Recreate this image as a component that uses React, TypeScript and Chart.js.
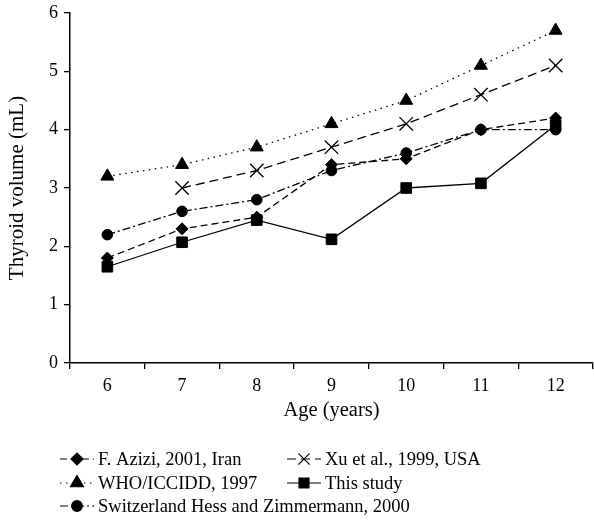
import React, { useEffect, useRef } from "react";
import { Chart, registerables } from "chart.js";
import { drawPoint } from "chart.js/helpers";

Chart.register(...registerables);

const ages = ["6", "7", "8", "9", "10", "11", "12"];
const azizi = [1.8, 2.3, 2.5, 3.4, 3.5, 4.0, 4.2];
const xu = [null, 3.0, 3.3, 3.7, 4.1, 4.6, 5.1];
const who = [3.2, 3.4, 3.7, 4.1, 4.5, 5.1, 5.7];
const thisStudy = [1.65, 2.07, 2.45, 2.12, 3.0, 3.08, 4.08];
const swiss = [2.2, 2.6, 2.8, 3.3, 3.6, 4.0, 4.0];
const yTicks = [0, 1, 2, 3, 4, 5, 6];

const FONT = "'Liberation Serif', 'DejaVu Serif', serif";
const PLOT_RIGHT = 593;

const stretchPlugin = {
  id: "stretchRight",
  afterLayout(chart: any) {
    const xs = chart.scales.x;
    chart.chartArea.right = PLOT_RIGHT;
    chart.chartArea.width = PLOT_RIGHT - chart.chartArea.left;
    xs.right = PLOT_RIGHT;
    xs.width = xs.right - xs.left;
    xs.configure();
  },
};

const legendPlugin = {
  id: "customLegend",
  afterDraw(chart: any) {
    const ctx = chart.ctx;
    const slots = [
      { x: 60, y: 459 },
      { x: 287, y: 459 },
      { x: 60, y: 483 },
      { x: 287, y: 483 },
      { x: 60, y: 506 },
    ];
    chart.data.datasets.forEach((ds: any) => {
      const s = slots[ds.legendSlot];
      ctx.save();
      ctx.strokeStyle = "#000";
      ctx.lineWidth = 1.2;
      ctx.setLineDash(ds.borderDash || []);
      ctx.beginPath();
      ctx.moveTo(s.x, s.y);
      ctx.lineTo(s.x + 34, s.y);
      ctx.stroke();
      ctx.setLineDash([]);
      ctx.fillStyle = "#000";
      drawPoint(
        ctx,
        {
          pointStyle: ds.pointStyle,
          radius: ds.legendRadius,
          rotation: 0,
          borderWidth: ds.pointBorderWidth,
        },
        s.x + 17,
        s.y
      );
      ctx.fillStyle = "#000";
      ctx.font = "18.5px " + FONT;
      ctx.textBaseline = "middle";
      ctx.textAlign = "left";
      ctx.fillText(ds.label, s.x + 38, s.y + 1);
      ctx.restore();
    });
  },
};

export default function App() {
  const ref = useRef<HTMLCanvasElement>(null);
  useEffect(() => {
    const common = {
      borderColor: "#000",
      backgroundColor: "#000",
      pointBackgroundColor: "#000",
      pointBorderColor: "#000",
      borderWidth: 1.3,
      tension: 0,
      spanGaps: false,
    };
    const chart = new Chart(ref.current!, {
      type: "line",
      data: {
        labels: ages,
        datasets: [
          { ...common, label: "F. Azizi, 2001, Iran", data: azizi, borderDash: [7, 4], pointStyle: "rectRot", pointRadius: 6, legendRadius: 6, pointBorderWidth: 1, legendSlot: 0 } as any,
          { ...common, label: "Xu et al., 1999, USA", data: xu, borderDash: [9, 5], pointStyle: "crossRot", pointRadius: 9.5, legendRadius: 8, pointBorderWidth: 1.3, legendSlot: 1 } as any,
          { ...common, label: "WHO/ICCIDD, 1997", data: who, borderDash: [1.5, 4.5], pointStyle: "triangle", pointRadius: 7.5, legendRadius: 7.5, pointBorderWidth: 1, legendSlot: 2 } as any,
          { ...common, label: "This study", data: thisStudy, borderDash: [], pointStyle: "rect", pointRadius: 7.5, legendRadius: 7, pointBorderWidth: 1, legendSlot: 3 } as any,
          { ...common, label: "Switzerland Hess and Zimmermann, 2000", data: swiss, borderDash: [8, 3, 2, 3], pointStyle: "circle", pointRadius: 5.3, legendRadius: 5.3, pointBorderWidth: 1, legendSlot: 4 } as any,
        ],
      },
      options: {
        animation: false,
        responsive: false,
        maintainAspectRatio: false,
        layout: { padding: { left: 0, right: 1, top: 13, bottom: 102 } },
        plugins: { legend: { display: false }, tooltip: { enabled: false } },
        scales: {
          x: {
            offset: true,
            afterFit: (scale: any) => {
              scale.height = 60;
              scale.paddingLeft = 0;
              scale.paddingRight = 0;
            },
            grid: {
              offset: true,
              drawOnChartArea: false,
              drawTicks: true,
              tickLength: 6,
              color: "#000",
              lineWidth: 1.3,
            },
            border: { display: true, color: "#000", width: 1.5 },
            ticks: { color: "#000", font: { family: FONT, size: 18 }, padding: 6, maxRotation: 0 },
            title: { display: true, text: "Age (years)", color: "#000", font: { family: FONT, size: 20.5 }, padding: { top: 0, bottom: 0 } },
          },
          y: {
            min: 0,
            max: 6,
            afterBuildTicks: (scale: any) => {
              scale.ticks = yTicks.map((v) => ({ value: v }));
            },
            afterFit: (scale: any) => {
              scale.width = 70;
              scale.paddingTop = 0;
              scale.paddingBottom = 0;
            },
            grid: {
              drawOnChartArea: false,
              drawTicks: true,
              tickLength: 6,
              color: "#000",
              lineWidth: 1.3,
            },
            border: { display: true, color: "#000", width: 1.5 },
            ticks: { color: "#000", font: { family: FONT, size: 18 }, padding: 6 },
            title: { display: true, text: "Thyroid volume (mL)", color: "#000", font: { family: FONT, size: 21 }, padding: { top: 5, bottom: 0 } },
          },
        },
      },
      plugins: [stretchPlugin, legendPlugin],
    });
    return () => chart.destroy();
  }, []);
  return (
    <div style={{ position: "fixed", left: 0, top: 0, width: 594, height: 525, background: "#fff" }}>
      <canvas ref={ref} width={594} height={525} style={{ width: 594, height: 525 }} />
    </div>
  );
}
